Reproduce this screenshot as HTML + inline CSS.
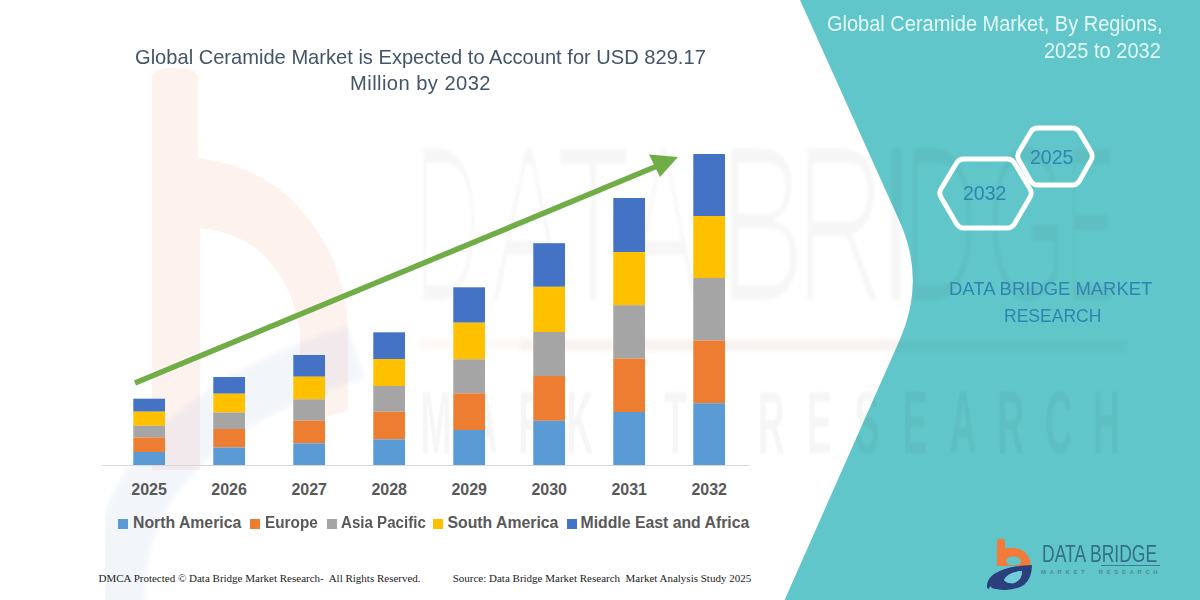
<!DOCTYPE html>
<html><head><meta charset="utf-8">
<style>
html,body{margin:0;padding:0;background:#fff;}
body{width:1200px;height:600px;position:relative;overflow:hidden;font-family:"Liberation Sans",sans-serif;}
.t{position:absolute;white-space:pre;line-height:1;}
svg{position:absolute;left:0;top:0;}
.ax{top:482px;font-size:16px;font-weight:bold;color:#595959;}
.lg{top:515px;font-size:15.8px;font-weight:bold;color:#595959;}
.sq{position:absolute;top:519px;width:10px;height:10px;}
.ft{top:573px;font-family:"Liberation Serif",serif;font-size:11px;color:#222;}
</style></head><body>
<svg width="1200" height="600" viewBox="0 0 1200 600">
  <path d="M800 0 L1200 0 L1200 600 L784.6 600 L899.8 339.7 Q926.1 280.3 899.45 221 Z" fill="#61c6c9"/>
<defs><filter id="bl" x="-5%" y="-50%" width="110%" height="200%"><feGaussianBlur stdDeviation="2"/></filter><filter id="er" x="-5%" y="-5%" width="110%" height="110%"><feMorphology operator="erode" radius="3 1"/><feGaussianBlur stdDeviation="1.8"/></filter><filter id="er2" x="-5%" y="-5%" width="110%" height="110%"><feGaussianBlur stdDeviation="1.3"/></filter></defs>
<g id="wm">
  <path fill-rule="evenodd" fill="#f06a3c" opacity="0.085" d="M152 470 L152 78 Q152 68 175 68 Q198 68 198 78 L198 158 Q290 168 332 258 Q350 300 348 350 L348 410 L300 425 L200 470 Z M200 228 Q282 236 300 330 L300 425 L200 470 Z"/>
  <path fill="none" stroke="#3b6fc0" stroke-width="55" opacity="0.06" filter="url(#bl)" d="M118 610 Q108 430 356 352"/>
  <g font-family="Liberation Sans" fill="#000" opacity="0.033" filter="url(#er)"><text transform="translate(412.2 301) scale(0.432 1)" font-size="222">D</text><text transform="translate(489.5 301) scale(0.527 1)" font-size="222">A</text><text transform="translate(554.1 301) scale(0.579 1)" font-size="222">T</text><text transform="translate(626.5 301) scale(0.500 1)" font-size="222">A</text><text transform="translate(717.0 301) scale(0.610 1)" font-size="222">B</text><text transform="translate(793.6 301) scale(0.580 1)" font-size="222">R</text><text transform="translate(872.8 301) scale(0.762 1)" font-size="222">I</text><text transform="translate(901.1 301) scale(0.492 1)" font-size="222">D</text><text transform="translate(984.7 301) scale(0.483 1)" font-size="222">G</text><text transform="translate(1063.3 301) scale(0.372 1)" font-size="222">E</text></g>
  <rect x="420" y="338" width="480" height="12" fill="#f47c3c" opacity="0.04" filter="url(#bl)"/>
  <rect x="520" y="340" width="607" height="12" fill="#000" opacity="0.022" filter="url(#bl)"/>
  <text y="453" font-family="Liberation Sans" font-size="89" font-weight="bold" fill="#000" opacity="0.032" text-anchor="middle" filter="url(#er2)" transform="scale(0.42,1)"><tspan x="1038.1">M</tspan><tspan x="1152.1">A</tspan><tspan x="1266.2">R</tspan><tspan x="1380.2">K</tspan><tspan x="1494.3">E</tspan><tspan x="1608.3">T</tspan><tspan x="1836.4">R</tspan><tspan x="1950.5">E</tspan><tspan x="2064.5">S</tspan><tspan x="2178.6">E</tspan><tspan x="2292.6">A</tspan><tspan x="2406.7">R</tspan><tspan x="2520.7">C</tspan><tspan x="2634.8">H</tspan></text>
</g>
  <line x1="102" y1="465.5" x2="749" y2="465.5" stroke="#d9d9d9" stroke-width="1"/>
  <rect x="133.3" y="398.7" width="31.7" height="13.0" fill="#4472c4"/>
  <rect x="133.3" y="411.7" width="31.7" height="14.1" fill="#ffc000"/>
  <rect x="133.3" y="425.8" width="31.7" height="11.7" fill="#a5a5a5"/>
  <rect x="133.3" y="437.5" width="31.7" height="14.5" fill="#ed7d31"/>
  <rect x="133.3" y="452.0" width="31.7" height="13.0" fill="#5b9bd5"/>
  <rect x="213.3" y="377.0" width="31.7" height="16.7" fill="#4472c4"/>
  <rect x="213.3" y="393.7" width="31.7" height="18.8" fill="#ffc000"/>
  <rect x="213.3" y="412.5" width="31.7" height="16.5" fill="#a5a5a5"/>
  <rect x="213.3" y="429.0" width="31.7" height="18.5" fill="#ed7d31"/>
  <rect x="213.3" y="447.5" width="31.7" height="17.5" fill="#5b9bd5"/>
  <rect x="293.3" y="355.0" width="31.7" height="21.7" fill="#4472c4"/>
  <rect x="293.3" y="376.7" width="31.7" height="22.6" fill="#ffc000"/>
  <rect x="293.3" y="399.3" width="31.7" height="21.4" fill="#a5a5a5"/>
  <rect x="293.3" y="420.7" width="31.7" height="22.6" fill="#ed7d31"/>
  <rect x="293.3" y="443.3" width="31.7" height="21.7" fill="#5b9bd5"/>
  <rect x="373.3" y="332.3" width="31.7" height="26.7" fill="#4472c4"/>
  <rect x="373.3" y="359.0" width="31.7" height="27.0" fill="#ffc000"/>
  <rect x="373.3" y="386.0" width="31.7" height="25.7" fill="#a5a5a5"/>
  <rect x="373.3" y="411.7" width="31.7" height="27.6" fill="#ed7d31"/>
  <rect x="373.3" y="439.3" width="31.7" height="25.7" fill="#5b9bd5"/>
  <rect x="453.3" y="287.3" width="31.7" height="35.4" fill="#4472c4"/>
  <rect x="453.3" y="322.7" width="31.7" height="36.6" fill="#ffc000"/>
  <rect x="453.3" y="359.3" width="31.7" height="34.0" fill="#a5a5a5"/>
  <rect x="453.3" y="393.3" width="31.7" height="36.7" fill="#ed7d31"/>
  <rect x="453.3" y="430.0" width="31.7" height="35.0" fill="#5b9bd5"/>
  <rect x="533.3" y="243.2" width="31.7" height="43.6" fill="#4472c4"/>
  <rect x="533.3" y="286.8" width="31.7" height="45.2" fill="#ffc000"/>
  <rect x="533.3" y="332.0" width="31.7" height="44.0" fill="#a5a5a5"/>
  <rect x="533.3" y="376.0" width="31.7" height="44.8" fill="#ed7d31"/>
  <rect x="533.3" y="420.8" width="31.7" height="44.2" fill="#5b9bd5"/>
  <rect x="613.3" y="198.0" width="31.7" height="54.0" fill="#4472c4"/>
  <rect x="613.3" y="252.0" width="31.7" height="53.2" fill="#ffc000"/>
  <rect x="613.3" y="305.2" width="31.7" height="53.3" fill="#a5a5a5"/>
  <rect x="613.3" y="358.5" width="31.7" height="53.5" fill="#ed7d31"/>
  <rect x="613.3" y="412.0" width="31.7" height="53.0" fill="#5b9bd5"/>
  <rect x="693.3" y="154.0" width="31.7" height="62.0" fill="#4472c4"/>
  <rect x="693.3" y="216.0" width="31.7" height="62.0" fill="#ffc000"/>
  <rect x="693.3" y="278.0" width="31.7" height="62.5" fill="#a5a5a5"/>
  <rect x="693.3" y="340.5" width="31.7" height="62.7" fill="#ed7d31"/>
  <rect x="693.3" y="403.2" width="31.7" height="61.8" fill="#5b9bd5"/>
  <line x1="135" y1="383" x2="662" y2="164" stroke="#70ad47" stroke-width="5.5"/>
  <polygon points="678,157 649,154.5 660,177" fill="#70ad47"/>
  <path d="M941.0 197.3 Q938.5 193.0 941.1 188.7 L956.4 163.3 Q959.0 159.0 964.0 159.0 L1007.0 159.0 Q1012.0 159.0 1014.6 163.3 L1029.9 188.7 Q1032.5 193.0 1030.0 197.3 L1014.5 223.7 Q1012.0 228.0 1007.0 228.0 L964.0 228.0 Q959.0 228.0 956.5 223.7 Z" fill="none" stroke="#fff" stroke-width="4.8"/>
  <path d="M1019.0 160.3 Q1016.5 156.0 1019.0 151.7 L1030.5 132.3 Q1033.0 128.0 1038.0 128.0 L1072.0 128.0 Q1077.0 128.0 1079.5 132.3 L1091.0 151.7 Q1093.5 156.0 1091.0 160.3 L1079.5 180.7 Q1077.0 185.0 1072.0 185.0 L1038.0 185.0 Q1033.0 185.0 1030.5 180.7 Z" fill="none" stroke="#fff" stroke-width="4.8"/>
</svg>
<div class="t" style="left:135px;top:45.5px;font-size:21px;color:#44546a;transform:scaleX(0.957);transform-origin:0 0;">Global Ceramide Market is Expected to Account for USD 829.17</div>
<div class="t" style="left:350px;top:72px;font-size:21px;color:#44546a;letter-spacing:0.45px;transform:scaleX(0.96);transform-origin:0 0;">Million by 2032</div>
<div class="t" style="left:827px;top:14px;font-size:21.5px;color:#e4f8f8;transform:scaleX(0.93);transform-origin:0 0;">Global Ceramide Market, By Regions,</div>
<div class="t" style="left:1044px;top:40.5px;font-size:21.5px;color:#e4f8f8;transform:scaleX(0.93);transform-origin:0 0;">2025 to 2032</div>
<div class="t" style="left:963px;top:182px;font-size:21px;transform:scaleX(0.93);transform-origin:0 0;color:#2e86b0;">2032</div>
<div class="t" style="left:1030px;top:146px;font-size:21px;transform:scaleX(0.93);transform-origin:0 0;color:#2e86b0;">2025</div>
<div class="t" style="left:949px;top:279px;font-size:19px;color:#2e86b0;transform:scaleX(0.971);transform-origin:0 0;">DATA BRIDGE MARKET</div>
<div class="t" style="left:1004px;top:306px;font-size:19px;color:#2e86b0;transform:scaleX(0.922);transform-origin:0 0;">RESEARCH</div>
<div class="t ax" style="left:131.3px;">2025</div>
<div class="t ax" style="left:211.3px;">2026</div>
<div class="t ax" style="left:291.4px;">2027</div>
<div class="t ax" style="left:371.4px;">2028</div>
<div class="t ax" style="left:451.4px;">2029</div>
<div class="t ax" style="left:531.4px;">2030</div>
<div class="t ax" style="left:611.4px;">2031</div>
<div class="t ax" style="left:691.4px;">2032</div>
<svg width="1200" height="600" viewBox="0 0 1200 600" style="z-index:3">
  <path d="M997 566 L997 542 Q997 538.5 1001 538.5 Q1005 538.5 1005 542 L1005 548.5 Q1021 545 1028 556 Q1031 561 1030.5 566 Z" fill="#f37b3a"/>
  <ellipse cx="1013.5" cy="561" rx="7.5" ry="4.5" fill="#61c6c9"/>
  <path fill-rule="evenodd" fill="#2b3f7c" d="M987 588 Q986 580 994 574 Q1008 565.5 1032 565 Q1032 578 1024 585 Q1012 592 996 589 Q992 589 990 586 L989 589 Z M1004 580 Q1008 572 1022 571 Q1022 580 1014 583 Q1008 584 1004 580 Z"/>
  <path d="M1004 580 Q1008 572 1022 571 Q1022 580 1014 583 Q1008 584 1004 580 Z" fill="#74cbdc"/>
</svg>
<div class="t" style="left:1041.5px;top:543px;font-size:23.5px;color:#336f88;transform:scaleX(0.745);transform-origin:0 0;z-index:3">DATA BRIDGE</div>
<div style="position:absolute;left:1101px;top:564.5px;width:59px;height:1.2px;background:#3a7d94;z-index:3"></div>
<div class="t" style="left:1041px;top:569px;font-size:6px;font-weight:bold;color:#4a8a98;letter-spacing:3.6px;z-index:3">MARKET  RESEARCH</div>

<div class="sq" style="left:118px;background:#5b9bd5"></div><div class="t lg" style="left:133px;">North America</div>
<div class="sq" style="left:250px;background:#ed7d31"></div><div class="t lg" style="left:264.5px;transform:scaleX(0.97);transform-origin:0 0;">Europe</div>
<div class="sq" style="left:327px;background:#a5a5a5"></div><div class="t lg" style="left:341px;transform:scaleX(0.956);transform-origin:0 0;">Asia Pacific</div>
<div class="sq" style="left:433px;background:#ffc000"></div><div class="t lg" style="left:447.5px;">South America</div>
<div class="sq" style="left:567px;background:#4472c4"></div><div class="t lg" style="left:580.5px;">Middle East and Africa</div>
<div class="t ft" style="left:98.5px;">DMCA Protected © Data Bridge Market Research-  All Rights Reserved.</div>
<div class="t ft" style="left:452.7px;">Source: Data Bridge Market Research  Market Analysis Study 2025</div>
</body></html>
